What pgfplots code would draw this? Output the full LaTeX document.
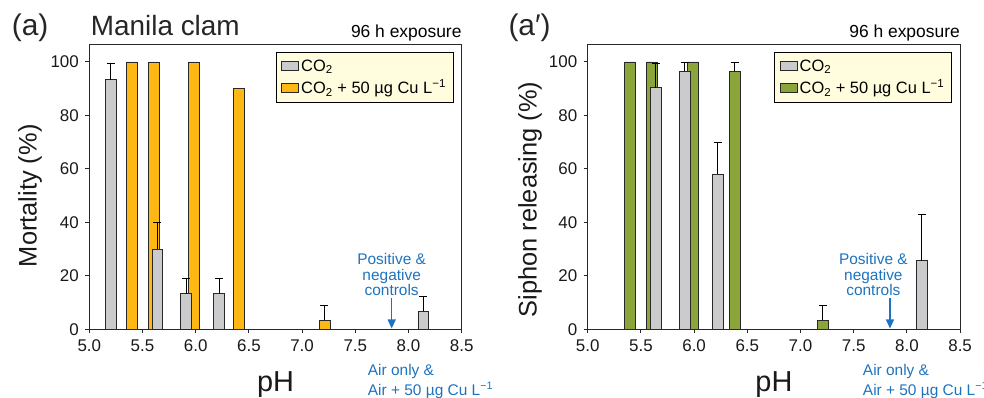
\documentclass[border=0pt]{standalone}
\usepackage{pgfplots}
\pgfplotsset{compat=1.18}
\usepackage{fontspec}
\setmainfont{Liberation Sans}
\usetikzlibrary{arrows.meta}
\definecolor{barGray}{RGB}{203,203,206}
\definecolor{barOrange}{RGB}{253,184,19}
\definecolor{barGreen}{RGB}{139,165,59}
\definecolor{legFill}{RGB}{255,253,222}
\definecolor{annBlue}{RGB}{30,115,190}
\definecolor{lineDark}{RGB}{40,40,40}

\pgfplotsset{
  panel/.style={
    scale only axis, width=372.4bp, height=285.3bp,
    xmin=5, xmax=8.5, ymin=0, ymax=106.7,
    xtick={5,5.5,6,6.5,7,7.5,8,8.5}, ytick={0,20,40,60,80,100},
    xticklabel style={yshift=-3bp, /pgf/number format/fixed, /pgf/number format/fixed zerofill, /pgf/number format/precision=1},
    /pgf/number format/assume math mode=true,
    tick label style={font=\fontsize{17}{20}\selectfont, text=black!90},
    yticklabel style={xshift=-3bp},
    tick align=outside, xtick pos=bottom, ytick pos=left,
    major tick length=4bp,
    tick style={line width=0.9bp, lineDark},
    axis line style={line width=0.9bp, lineDark},
    clip=false,
    xlabel={pH},
    xlabel style={font=\fontsize{29}{33}\selectfont, text=black!90, at={(axis description cs:0.5,-0.2187)}, anchor=base},
    legend style={at={(1,1)}, xshift=-8.4bp, yshift=-8.3bp, anchor=north east,
      draw=black, line width=0.8bp, fill=legFill, font=\fontsize{16.5}{19}\selectfont,
      inner xsep=5bp, inner ysep=5bp, row sep=3bp, cells={anchor=west}},
    legend cell align=left,
  },
  mybar/.style={ybar, bar width=0.103, bar shift=0pt, draw=lineDark, line width=0.8bp, fill=#1},
  myerr/.style={error bars/.cd, y dir=plus, y explicit,
      error bar style={line width=0.8bp, black},
      error mark options={rotate=90, line width=0.8bp, mark size=4bp, black}},
  legpatch/.style={legend image code/.code={\draw[fill=#1, draw=lineDark, line width=0.8bp] (0bp,-4.5bp) rectangle (17bp,4.5bp);}},
}

\newcommand\blue{\fontsize{15.5}{18}\selectfont}

\begin{document}
\begin{tikzpicture}
\path[use as bounding box] (0,0) rectangle (984bp,398bp);

% ---------------- Left panel: Mortality ----------------
\begin{axis}[panel, at={(89.3bp,68.7bp)}, anchor=south west,
  ylabel={Mortality (\%)},
  ylabel style={font=\fontsize{25.5}{30}\selectfont, text=black!90, at={(axis description cs:-0.1412,0.468)}, anchor=base},
]
\addlegendimage{legpatch=barGray}
\addlegendentry{CO\textsubscript{2}}
\addlegendimage{legpatch=barOrange}
\addlegendentry{CO\textsubscript{2} + 50 µg Cu L\textsuperscript{−1}}

% CO2 + Cu, no error
\addplot[mybar=barOrange, forget plot] table[x=x, y=y] {
x y
5.40 100
5.61 100
5.98 100
6.41 90
};
% CO2 + Cu, with error
\addplot[mybar=barOrange, forget plot, myerr] table[x=x, y=y, y error=e] {
x y e
7.21 3.3 5.7
};
% CO2, with error
\addplot[mybar=barGray, forget plot, myerr] table[x=x, y=y, y error=e] {
x y e
5.20 93.3 6.0
5.64 30.0 10.0
5.91 13.3 5.7
6.22 13.3 5.7
8.14 6.7 5.6
};

\node[font=\blue, text=annBlue, anchor=base, inner sep=0] at (axis cs:7.842,24.2) {Positive \&};
\node[font=\blue, text=annBlue, anchor=base, inner sep=0] at (axis cs:7.842,18.3) {negative};
\node[font=\blue, text=annBlue, anchor=base, inner sep=0] at (axis cs:7.842,12.5) {controls};
\draw[annBlue, line width=1.3bp, -{Triangle[length=9bp,width=8bp]}] (axis cs:7.842,11.7) -- (axis cs:7.842,0.3);
\node[font=\blue, text=annBlue, anchor=base west, inner sep=0] at (axis cs:7.617,-17.1) {Air only \&};
\node[font=\blue, text=annBlue, anchor=base west, inner sep=0] at (axis cs:7.617,-24.6) {Air + 50 µg Cu L\textsuperscript{−1}};
\end{axis}

% ---------------- Right panel: Siphon releasing ----------------
\begin{axis}[panel, at={(587.7bp,68.7bp)}, anchor=south west,
  ylabel={Siphon releasing (\%)},
  ylabel style={font=\fontsize{25.5}{30}\selectfont, text=black!90, at={(axis description cs:-0.137,0.455)}, anchor=base},
]
\addlegendimage{legpatch=barGray}
\addlegendentry{CO\textsubscript{2}}
\addlegendimage{legpatch=barGreen}
\addlegendentry{CO\textsubscript{2} + 50 µg Cu L\textsuperscript{−1}}

\addplot[mybar=barGreen, forget plot] table[x=x, y=y] {
x y
5.40 100
5.60 100
5.99 100
};
\addplot[mybar=barGreen, forget plot, myerr] table[x=x, y=y, y error=e] {
x y e
6.38 96.6 3.3
7.21 3.3 5.7
};
\addplot[mybar=barGray, forget plot, myerr] table[x=x, y=y, y error=e] {
x y e
5.64 90.4 9.0
5.91 96.6 3.3
6.22 58.0 11.8
8.14 25.6 17.4
};

\node[font=\blue, text=annBlue, anchor=base, inner sep=0] at (axis cs:7.685,24.2) {Positive \&};
\node[font=\blue, text=annBlue, anchor=base, inner sep=0] at (axis cs:7.685,18.3) {negative};
\node[font=\blue, text=annBlue, anchor=base, inner sep=0] at (axis cs:7.685,12.5) {controls};
\draw[annBlue, line width=1.3bp, -{Triangle[length=9bp,width=8bp]}] (axis cs:7.841,11.7) -- (axis cs:7.841,0.3);
\node[font=\blue, text=annBlue, anchor=base west, inner sep=0] at (axis cs:7.585,-17.1) {Air only \&};
\node[font=\blue, text=annBlue, anchor=base west, inner sep=0] at (axis cs:7.585,-24.6) {Air + 50 µg Cu L\textsuperscript{−1}};
\end{axis}

% ---------------- Titles ----------------
\node[anchor=base west, inner sep=0, font=\fontsize{30}{36}\selectfont, text=black!85] at (11.7bp,362bp) {(a)};
\node[anchor=base west, inner sep=0, font=\fontsize{28}{34}\selectfont, text=black!85] at (90.7bp,362bp) {Manila clam};
\node[anchor=base east, inner sep=0, font=\fontsize{17.5}{21}\selectfont] at (461.7bp,360.7bp) {96 h exposure};
\node[anchor=base west, inner sep=0, font=\fontsize{30}{36}\selectfont, text=black!85] at (508.3bp,362bp) {(a′)};
\node[anchor=base east, inner sep=0, font=\fontsize{17.5}{21}\selectfont] at (960bp,360.7bp) {96 h exposure};
\end{tikzpicture}
\end{document}
